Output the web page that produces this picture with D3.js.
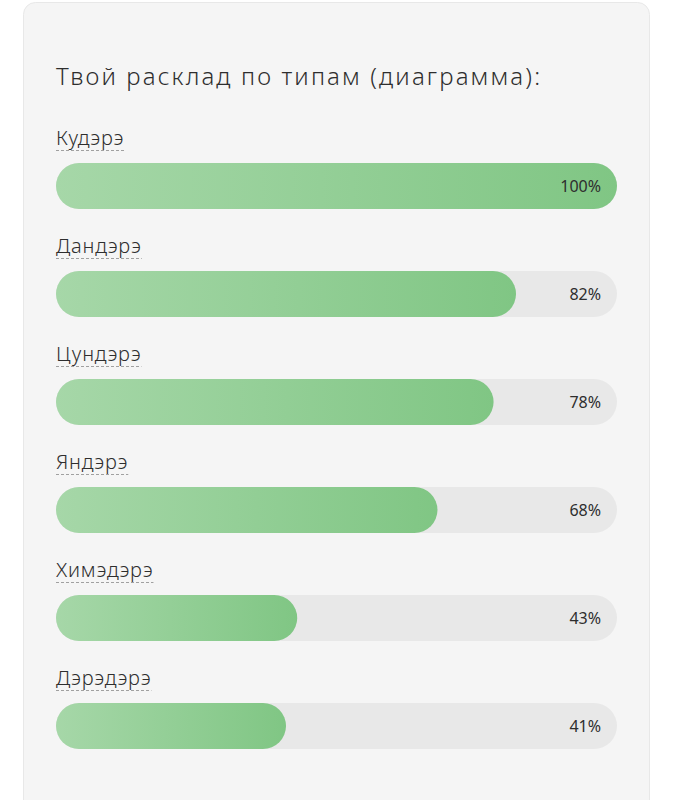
<!DOCTYPE html>
<html>
<head>
<meta charset="utf-8">
<script src="https://cdn.jsdelivr.net/npm/d3@7"></script>
<style>
  html, body { margin: 0; padding: 0; background: #fff; }
  svg { display: block; font-family: "Noto Sans", sans-serif; }
</style>
</head>
<body>
<script>
// data
const title = "Твой расклад по типам (диаграмма):";
const types = ["Кудэрэ", "Дандэрэ", "Цундэрэ", "Яндэрэ", "Химэдэрэ", "Дэрэдэрэ"];
const percents = [100, 82, 78, 68, 43, 41];

const width = 673, height = 800;
const barLeft = 56, barRight = 617, barH = 46, firstBarTop = 163, rowStep = 108;

const svg = d3.select("body").append("svg")
    .attr("width", width)
    .attr("height", height);

const defs = svg.append("defs");
const grad = defs.append("linearGradient")
    .attr("id", "barGrad")
    .attr("x1", "0%").attr("x2", "100%").attr("y1", "0%").attr("y2", "0%");
grad.append("stop").attr("offset", "0%").attr("stop-color", "#a6d7a8");
grad.append("stop").attr("offset", "100%").attr("stop-color", "#80c684");

// card
svg.append("rect")
    .attr("x", 23.5).attr("y", 2.5)
    .attr("width", 626).attr("height", 830)
    .attr("rx", 12)
    .attr("fill", "#f5f5f5")
    .attr("stroke", "#e8e8e8");

const titleText = svg.append("text")
    .attr("x", 56).attr("y", 85)
    .attr("font-size", 24)
    .attr("font-weight", 300)
    .attr("fill", "#2e2e2e")
    .text(title);
// the original face is wider, spread the title to the same span
const tw = titleText.node().getComputedTextLength();
titleText.attr("letter-spacing", Math.max(0, (484 - tw) / (title.length - 1)));

const x = d3.scaleLinear().domain([0, 100]).range([barLeft, barRight]);
const y = d3.scaleBand().domain(types).range([firstBarTop, firstBarTop + rowStep * types.length]);

const rows = svg.selectAll("g.row")
    .data(types.map((t, i) => ({ type: t, value: percents[i] })))
    .join("g")
    .attr("class", "row")
    .attr("transform", d => `translate(0,${y(d.type)})`);

rows.append("text")
    .attr("x", barLeft).attr("y", -18)
    .attr("font-size", 20)
    .attr("font-weight", 300)
    .attr("letter-spacing", 0.8)
    .attr("fill", "#2e2e2e")
    .text(d => d.type);

rows.each(function() {
    const g = d3.select(this);
    const w = g.select("text").node().getComputedTextLength();
    g.append("line")
        .attr("x1", barLeft).attr("x2", barLeft + w)
        .attr("y1", -12.5).attr("y2", -12.5)
        .attr("stroke", "#a0a0a0")
        .attr("stroke-width", 1)
        .attr("stroke-dasharray", "3,2");
});

rows.append("rect")
    .attr("x", x(0)).attr("y", 0)
    .attr("width", x(100) - x(0)).attr("height", barH)
    .attr("rx", barH / 2)
    .attr("fill", "#e8e8e8");

rows.append("rect")
    .attr("x", x(0)).attr("y", 0)
    .attr("width", d => x(d.value) - x(0)).attr("height", barH)
    .attr("rx", barH / 2)
    .attr("fill", "url(#barGrad)");

rows.append("text")
    .attr("x", barRight - 16).attr("y", barH / 2)
    .attr("dy", "0.36em")
    .attr("text-anchor", "end")
    .attr("font-size", 16)
    .attr("fill", "#2e2e2e")
    .text(d => d.value + "%");
</script>
</body>
</html>
